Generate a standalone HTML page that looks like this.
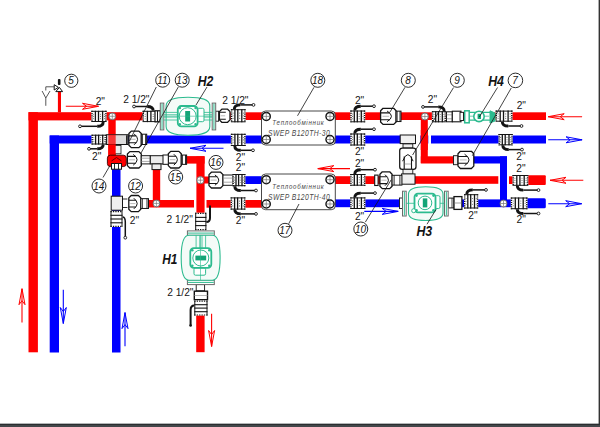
<!DOCTYPE html>
<html><head><meta charset="utf-8"><style>
html,body{margin:0;padding:0;background:#fff;overflow:hidden;}
svg{display:block;}
text{font-family:"Liberation Sans",sans-serif;}
</style></head><body>
<svg width="600" height="427" viewBox="0 0 600 427">
<rect x="0" y="0" width="600" height="427" fill="#fff"/>
<rect x="28.5" y="112.2" width="9.40" height="240.10" fill="#ff0000" />
<rect x="28.5" y="112.2" width="121.50" height="8.20" fill="#ff0000" />
<rect x="225" y="112.3" width="37.00" height="7.70" fill="#ff0000" />
<rect x="49.7" y="135.5" width="9.30" height="217.00" fill="#0000ff" />
<rect x="49.7" y="135.5" width="212.30" height="8.00" fill="#0000ff" />
<rect x="330" y="112.3" width="134.00" height="7.70" fill="#ff0000" />
<rect x="494" y="112.3" width="52.00" height="7.70" fill="#ff0000" />
<rect x="330" y="135.5" width="216.00" height="8.00" fill="#0000ff" />
<rect x="108.3" y="116" width="7.40" height="42.00" fill="#ff0000" />
<rect x="112" y="166" width="8.50" height="186.50" fill="#0000ff" />
<rect x="183" y="156.1" width="21.60" height="7.50" fill="#ff0000" />
<rect x="196.4" y="156.5" width="8.20" height="56.50" fill="#ff0000" />
<rect x="204" y="176.5" width="5.50" height="7.00" fill="#ff0000" />
<rect x="196.2" y="312" width="8.40" height="40.20" fill="#ff0000" />
<rect x="152.8" y="166" width="7.40" height="38.00" fill="#ff0000" />
<rect x="149" y="200" width="45.00" height="7.50" fill="#ff0000" />
<rect x="206.5" y="200" width="55.50" height="7.70" fill="#ff0000" />
<rect x="244" y="176.2" width="18.00" height="7.80" fill="#0000ff" />
<rect x="330" y="176.2" width="70.00" height="7.80" fill="#ff0000" />
<rect x="415" y="176.2" width="83.30" height="7.60" fill="#ff0000" />
<rect x="509" y="176.3" width="19.00" height="7.70" fill="#ff0000" />
<rect x="520" y="175.2" width="25.8" height="9.8" rx="1" fill="#ff0000"/>
<rect x="330" y="199.4" width="72.00" height="7.80" fill="#0000ff" />
<rect x="448" y="199.4" width="80.00" height="7.80" fill="#0000ff" />
<rect x="520" y="198.2" width="25.8" height="10" rx="1.5" fill="#0000ff"/>
<rect x="420.8" y="116" width="7.00" height="47.00" fill="#ff0000" />
<rect x="420.8" y="156.3" width="34.20" height="7.20" fill="#ff0000" />
<rect x="472" y="156.3" width="35.00" height="7.20" fill="#0000ff" />
<rect x="500" y="156.3" width="7.00" height="46.70" fill="#0000ff" />
<rect x="415.5" y="134" width="4.80" height="11.00" fill="#fff" />
<rect x="428.3" y="134" width="2.70" height="11.00" fill="#fff" />
<rect x="420.8" y="130" width="7.00" height="20.00" fill="#ff0000" />
<rect x="261.5" y="111" width="73.80000000000001" height="34" rx="4" fill="#fff" stroke="#333" stroke-width="0.9"/>
<text transform="translate(272.3,125.2) scale(0.78,1)" x="0" y="0" font-size="7.9" font-style="italic" textLength="65.9" lengthAdjust="spacing" fill="#4a4a4a">Теплообмінник</text>
<text transform="translate(268.1,135.6) scale(0.78,1)" x="0" y="0" font-size="8.7" font-style="italic" textLength="79.0" lengthAdjust="spacing" fill="#4a4a4a">SWEP B120TH-30</text>
<rect x="261.5" y="174" width="73.80000000000001" height="35.69999999999999" rx="4" fill="#fff" stroke="#333" stroke-width="0.9"/>
<text transform="translate(272.3,189.2) scale(0.78,1)" x="0" y="0" font-size="7.9" font-style="italic" textLength="65.9" lengthAdjust="spacing" fill="#4a4a4a">Теплообмінник</text>
<text transform="translate(268.1,199.5) scale(0.78,1)" x="0" y="0" font-size="8.7" font-style="italic" textLength="79.0" lengthAdjust="spacing" fill="#4a4a4a">SWEP B120TH-40</text>
<circle cx="266.3" cy="116.4" r="4.0" fill="#fff" stroke="#141414" stroke-width="1.5"/>
<path d="M262.3,116.4 H270.3 M266.3,112.4 V120.4" stroke="#777" stroke-width="0.7"/>
<circle cx="330" cy="116.4" r="4.0" fill="#fff" stroke="#141414" stroke-width="1.5"/>
<path d="M326.0,116.4 H334.0 M330,112.4 V120.4" stroke="#777" stroke-width="0.7"/>
<circle cx="266.3" cy="139.5" r="4.0" fill="#fff" stroke="#141414" stroke-width="1.5"/>
<path d="M262.3,139.5 H270.3 M266.3,135.5 V143.5" stroke="#777" stroke-width="0.7"/>
<circle cx="330" cy="139.5" r="4.0" fill="#fff" stroke="#141414" stroke-width="1.5"/>
<path d="M326.0,139.5 H334.0 M330,135.5 V143.5" stroke="#777" stroke-width="0.7"/>
<circle cx="266.3" cy="179.7" r="4.0" fill="#fff" stroke="#141414" stroke-width="1.5"/>
<path d="M262.3,179.7 H270.3 M266.3,175.7 V183.7" stroke="#777" stroke-width="0.7"/>
<circle cx="330" cy="179.7" r="4.0" fill="#fff" stroke="#141414" stroke-width="1.5"/>
<path d="M326.0,179.7 H334.0 M330,175.7 V183.7" stroke="#777" stroke-width="0.7"/>
<circle cx="266.3" cy="204" r="4.0" fill="#fff" stroke="#141414" stroke-width="1.5"/>
<path d="M262.3,204 H270.3 M266.3,200.0 V208.0" stroke="#777" stroke-width="0.7"/>
<circle cx="330" cy="204" r="4.0" fill="#fff" stroke="#141414" stroke-width="1.5"/>
<path d="M326.0,204 H334.0 M330,200.0 V208.0" stroke="#777" stroke-width="0.7"/>
<rect x="91.3" y="110.8" width="15.30" height="11.20" fill="#fff"/>
<path d="M91.3,111.3 H106.6 M91.3,121.5 H106.6" stroke="#141414" stroke-width="1"/>
<path d="M92.0,110.8 V122 M105.89999999999999,110.8 V122" stroke="#141414" stroke-width="1.4" stroke-dasharray="1.2 1"/>
<line x1="95.4" y1="110.8" x2="95.4" y2="122" stroke="#141414" stroke-width="1.3"/>
<line x1="98.5" y1="110.8" x2="98.5" y2="122" stroke="#141414" stroke-width="1.3"/>
<line x1="102.6" y1="110.8" x2="102.6" y2="122" stroke="#141414" stroke-width="1.3"/>
<circle cx="93.6" cy="114.2" r="0.55" fill="#777"/>
<circle cx="93.6" cy="116.4" r="0.55" fill="#777"/>
<circle cx="93.6" cy="118.6" r="0.55" fill="#777"/>
<circle cx="100.5" cy="114.2" r="0.55" fill="#777"/>
<circle cx="100.5" cy="116.4" r="0.55" fill="#777"/>
<circle cx="100.5" cy="118.6" r="0.55" fill="#777"/>
<circle cx="104.5" cy="114.2" r="0.55" fill="#777"/>
<circle cx="104.5" cy="116.4" r="0.55" fill="#777"/>
<circle cx="104.5" cy="118.6" r="0.55" fill="#777"/>
<path d="M103.2,122 Q103.2,126.3 97.2,126.3" fill="none" stroke="#141414" stroke-width="2.9"/>
<line x1="97.2" y1="126.3" x2="80.0" y2="126.3" stroke="#141414" stroke-width="1.5"/>
<circle cx="80.0" cy="126.3" r="1.4" fill="#fff" stroke="#141414" stroke-width="0.9"/>
<rect x="91.5" y="134.7" width="15.10" height="9.80" fill="#fff"/>
<path d="M91.5,135.2 H106.6 M91.5,144.0 H106.6" stroke="#141414" stroke-width="1"/>
<path d="M92.2,134.7 V144.5 M105.89999999999999,134.7 V144.5" stroke="#141414" stroke-width="1.4" stroke-dasharray="1.2 1"/>
<line x1="95.6" y1="134.7" x2="95.6" y2="144.5" stroke="#141414" stroke-width="1.3"/>
<line x1="98.6" y1="134.7" x2="98.6" y2="144.5" stroke="#141414" stroke-width="1.3"/>
<line x1="102.7" y1="134.7" x2="102.7" y2="144.5" stroke="#141414" stroke-width="1.3"/>
<circle cx="93.8" cy="137.6" r="0.55" fill="#777"/>
<circle cx="93.8" cy="139.6" r="0.55" fill="#777"/>
<circle cx="93.8" cy="141.6" r="0.55" fill="#777"/>
<circle cx="100.6" cy="137.6" r="0.55" fill="#777"/>
<circle cx="100.6" cy="139.6" r="0.55" fill="#777"/>
<circle cx="100.6" cy="141.6" r="0.55" fill="#777"/>
<circle cx="104.5" cy="137.6" r="0.55" fill="#777"/>
<circle cx="104.5" cy="139.6" r="0.55" fill="#777"/>
<circle cx="104.5" cy="141.6" r="0.55" fill="#777"/>
<path d="M103.2,144.5 Q103.2,148.8 97.2,148.8" fill="none" stroke="#141414" stroke-width="2.9"/>
<line x1="97.2" y1="148.8" x2="89.0" y2="148.8" stroke="#141414" stroke-width="1.5"/>
<circle cx="89.0" cy="148.8" r="1.4" fill="#fff" stroke="#141414" stroke-width="0.9"/>
<circle cx="112.3" cy="116.3" r="3.4" fill="#fff" stroke="#666" stroke-width="0.9"/>
<path d="M108.9,116.3 H115.7 M112.3,112.9 V119.7" stroke="#777" stroke-width="0.7"/>
<rect x="142.6" y="110.8" width="17.60" height="11.30" fill="#fff"/>
<path d="M142.6,111.3 H160.2 M142.6,121.6 H160.2" stroke="#141414" stroke-width="1"/>
<path d="M143.29999999999998,110.8 V122.1 M159.5,110.8 V122.1" stroke="#141414" stroke-width="1.4" stroke-dasharray="1.2 1"/>
<line x1="147.4" y1="110.8" x2="147.4" y2="122.1" stroke="#141414" stroke-width="1.3"/>
<line x1="150.9" y1="110.8" x2="150.9" y2="122.1" stroke="#141414" stroke-width="1.3"/>
<line x1="155.6" y1="110.8" x2="155.6" y2="122.1" stroke="#141414" stroke-width="1.3"/>
<circle cx="145.2" cy="114.2" r="0.55" fill="#777"/>
<circle cx="145.2" cy="116.4" r="0.55" fill="#777"/>
<circle cx="145.2" cy="118.7" r="0.55" fill="#777"/>
<circle cx="153.2" cy="114.2" r="0.55" fill="#777"/>
<circle cx="153.2" cy="116.4" r="0.55" fill="#777"/>
<circle cx="153.2" cy="118.7" r="0.55" fill="#777"/>
<circle cx="157.7" cy="114.2" r="0.55" fill="#777"/>
<circle cx="157.7" cy="116.4" r="0.55" fill="#777"/>
<circle cx="157.7" cy="118.7" r="0.55" fill="#777"/>
<path d="M153.2,110.8 Q153.2,106.5 147.2,106.5" fill="none" stroke="#141414" stroke-width="2.9"/>
<line x1="147.2" y1="106.5" x2="134.0" y2="106.5" stroke="#141414" stroke-width="1.5"/>
<circle cx="134.0" cy="106.5" r="1.4" fill="#fff" stroke="#141414" stroke-width="0.9"/>
<rect x="106.6" y="134.7" width="21.5" height="9.8" fill="#ddd" stroke="#141414" stroke-width="1"/>
<rect x="108.3" y="134.7" width="7.4" height="9.8" fill="#ff0000" opacity="0.75"/>
<path d="M131.3,131.1 H138.9 L141.3,133.5 V145.2 L138.9,147.6 H131.3 L128.9,145.2 V133.5 Z" fill="#fff" stroke="#141414" stroke-width="1.3" stroke-linejoin="round"/>
<path d="M128.9,135.9 H136.3 M128.9,142.8 H136.3" stroke="#141414" stroke-width="1.1"/>
<path d="M130.4,139.3 H135.7" stroke="#aaa" stroke-width="0.8"/>
<path d="M134.1,133.9 Q141.1,139.3 134.1,144.8" fill="none" stroke="#141414" stroke-width="1"/>
<rect x="141.3" y="134.20" width="5.40" height="10.3" fill="#fff" stroke="#141414" stroke-width="1"/>
<path d="M142.4,134.2 V144.5 M145.6,134.2 V144.5" stroke="#141414" stroke-width="0.9"/>
<path d="M126.8,135.2 V144" stroke="#141414" stroke-width="1.4"/>
<rect x="114.3" y="145.5" width="6.70" height="8.30" fill="#eee" stroke="#141414" stroke-width="0.8"/>
<rect x="108.3" y="144.5" width="7.40" height="12.50" fill="#ff0000" />
<rect x="107.4" y="155.2" width="18.9" height="11.4" rx="3" fill="#ff0000" stroke="#3a0000" stroke-width="0.9"/>
<path d="M111.5,161 L116.5,157.5 L121.5,161" fill="none" stroke="#500" stroke-width="0.9"/>
<rect x="111.5" y="163.5" width="10.00" height="5.70" fill="#fff" stroke="#141414" stroke-width="1"/>
<path d="M114.5,163.5 V169.2 M118.5,163.5 V169.2" stroke="#141414" stroke-width="0.9"/>
<rect x="215.7" y="111.2" width="2.90" height="10.00" fill="#fff" stroke="#141414" stroke-width="0.9"/>
<path d="M221.8,109.2 H227.6 L230,111.6 V119.9 L227.6,122.3 H221.8 L219.4,119.9 V111.6 Z" fill="#fff" stroke="#141414" stroke-width="1.3" stroke-linejoin="round"/>
<path d="M219.4,112.3 H225.8 M219.4,119.2 H225.8" stroke="#141414" stroke-width="1.1"/>
<path d="M220.7,115.8 H225.2" stroke="#aaa" stroke-width="0.8"/>
<rect x="230.9" y="109.2" width="14.70" height="13.10" fill="#fff"/>
<path d="M230.9,109.7 H245.6 M230.9,121.8 H245.6" stroke="#141414" stroke-width="1"/>
<path d="M231.6,109.2 V122.3 M244.9,109.2 V122.3" stroke="#141414" stroke-width="1.4" stroke-dasharray="1.2 1"/>
<line x1="234.9" y1="109.2" x2="234.9" y2="122.3" stroke="#141414" stroke-width="1.3"/>
<line x1="237.8" y1="109.2" x2="237.8" y2="122.3" stroke="#141414" stroke-width="1.3"/>
<line x1="241.8" y1="109.2" x2="241.8" y2="122.3" stroke="#141414" stroke-width="1.3"/>
<circle cx="233.1" cy="113.1" r="0.55" fill="#777"/>
<circle cx="233.1" cy="115.8" r="0.55" fill="#777"/>
<circle cx="233.1" cy="118.4" r="0.55" fill="#777"/>
<circle cx="239.7" cy="113.1" r="0.55" fill="#777"/>
<circle cx="239.7" cy="115.8" r="0.55" fill="#777"/>
<circle cx="239.7" cy="118.4" r="0.55" fill="#777"/>
<circle cx="243.5" cy="113.1" r="0.55" fill="#777"/>
<circle cx="243.5" cy="115.8" r="0.55" fill="#777"/>
<circle cx="243.5" cy="118.4" r="0.55" fill="#777"/>
<path d="M234.3,109.2 Q234.3,104.9 240.3,104.9" fill="none" stroke="#141414" stroke-width="2.9"/>
<line x1="240.3" y1="104.9" x2="253.5" y2="104.9" stroke="#141414" stroke-width="1.5"/>
<circle cx="253.5" cy="104.9" r="1.4" fill="#fff" stroke="#141414" stroke-width="0.9"/>
<rect x="230.9" y="133.8" width="14.70" height="12.20" fill="#fff"/>
<path d="M230.9,134.3 H245.6 M230.9,145.5 H245.6" stroke="#141414" stroke-width="1"/>
<path d="M231.6,133.8 V146 M244.9,133.8 V146" stroke="#141414" stroke-width="1.4" stroke-dasharray="1.2 1"/>
<line x1="234.9" y1="133.8" x2="234.9" y2="146" stroke="#141414" stroke-width="1.3"/>
<line x1="237.8" y1="133.8" x2="237.8" y2="146" stroke="#141414" stroke-width="1.3"/>
<line x1="241.8" y1="133.8" x2="241.8" y2="146" stroke="#141414" stroke-width="1.3"/>
<circle cx="233.1" cy="137.5" r="0.55" fill="#777"/>
<circle cx="233.1" cy="139.9" r="0.55" fill="#777"/>
<circle cx="233.1" cy="142.3" r="0.55" fill="#777"/>
<circle cx="239.7" cy="137.5" r="0.55" fill="#777"/>
<circle cx="239.7" cy="139.9" r="0.55" fill="#777"/>
<circle cx="239.7" cy="142.3" r="0.55" fill="#777"/>
<circle cx="243.5" cy="137.5" r="0.55" fill="#777"/>
<circle cx="243.5" cy="139.9" r="0.55" fill="#777"/>
<circle cx="243.5" cy="142.3" r="0.55" fill="#777"/>
<path d="M234.8,146 Q234.8,150.3 240.8,150.3" fill="none" stroke="#141414" stroke-width="2.9"/>
<line x1="240.8" y1="150.3" x2="253.0" y2="150.3" stroke="#141414" stroke-width="1.5"/>
<circle cx="253.0" cy="150.3" r="1.4" fill="#fff" stroke="#141414" stroke-width="0.9"/>
<path d="M129.8,151.6 H138.9 L141.3,154.0 V165.6 L138.9,168 H129.8 L127.4,165.6 V154.0 Z" fill="#fff" stroke="#141414" stroke-width="1.3" stroke-linejoin="round"/>
<path d="M127.4,156.4 H135.7 M127.4,163.2 H135.7" stroke="#141414" stroke-width="1.1"/>
<path d="M129.1,159.8 H135.0" stroke="#aaa" stroke-width="0.8"/>
<path d="M133.2,154.4 Q141.0,159.8 133.2,165.2" fill="none" stroke="#141414" stroke-width="1"/>
<rect x="141.3" y="155.7" width="9.00" height="8.20" fill="#fff" stroke="#141414" stroke-width="1"/>
<path d="M141.3,158.2 H150.3 M141.3,161.4 H150.3" stroke="#888" stroke-width="0.7"/>
<rect x="150.3" y="155.7" width="15.60" height="8.20" fill="#ececec" stroke="#141414" stroke-width="1"/>
<rect x="152" y="163.9" width="9.00" height="5.70" fill="#ececec" stroke="#141414" stroke-width="1"/>
<path d="M170.7,151.4 H178.9 L181.3,153.8 V165.6 L178.9,168 H170.7 L168.3,165.6 V153.8 Z" fill="#fff" stroke="#141414" stroke-width="1.3" stroke-linejoin="round"/>
<path d="M168.3,156.3 H176.1 M168.3,163.1 H176.1" stroke="#141414" stroke-width="1.1"/>
<path d="M169.9,159.7 H175.5" stroke="#aaa" stroke-width="0.8"/>
<path d="M173.8,154.2 Q181.0,159.7 173.8,165.2" fill="none" stroke="#141414" stroke-width="1"/>
<rect x="181.3" y="155.05" width="5.30" height="9.3" fill="#fff" stroke="#141414" stroke-width="1"/>
<path d="M182.4,155.0 V164.3 M185.5,155.0 V164.3" stroke="#141414" stroke-width="0.9"/>
<rect x="163" y="155" width="5.3" height="9.3" fill="#fff" stroke="#141414" stroke-width="1"/>
<path d="M131.2,195.5 H138.4 L140.8,197.9 V209.2 L138.4,211.6 H131.2 L128.8,209.2 V197.9 Z" fill="#fff" stroke="#141414" stroke-width="1.3" stroke-linejoin="round"/>
<path d="M128.8,200.2 H136.0 M128.8,207.0 H136.0" stroke="#141414" stroke-width="1.1"/>
<path d="M130.2,203.6 H135.4" stroke="#aaa" stroke-width="0.8"/>
<path d="M133.8,198.2 Q140.6,203.6 133.8,208.9" fill="none" stroke="#141414" stroke-width="1"/>
<rect x="140.8" y="198.65" width="7.70" height="9.8" fill="#fff" stroke="#141414" stroke-width="1"/>
<path d="M142.3,198.7 V208.5 M147.0,198.7 V208.5" stroke="#141414" stroke-width="0.9"/>
<circle cx="156.4" cy="203.4" r="3.4" fill="#fff" stroke="#666" stroke-width="0.9"/>
<path d="M153.0,203.4 H159.8 M156.4,200.0 V206.8" stroke="#777" stroke-width="0.7"/>
<rect x="111.2" y="196.2" width="11.30" height="14.00" fill="#eee" stroke="#141414" stroke-width="1"/>
<path d="M122.5,199 H127.4 M122.5,207.5 H127.4" stroke="#141414" stroke-width="0.9"/>
<rect x="110.5" y="211" width="12.00" height="16.00" fill="#fff"/>
<path d="M111.0,211 V227 M122.0,211 V227" stroke="#141414" stroke-width="1"/>
<path d="M110.5,211.6 H122.5 M110.5,226.4 H122.5" stroke="#141414" stroke-width="1.2" stroke-dasharray="1.3 1.1"/>
<line x1="110.5" y1="215.3" x2="122.5" y2="215.3" stroke="#141414" stroke-width="1.1"/>
<line x1="110.5" y1="219.0" x2="122.5" y2="219.0" stroke="#141414" stroke-width="1.1"/>
<line x1="110.5" y1="222.8" x2="122.5" y2="222.8" stroke="#141414" stroke-width="1.1"/>
<path d="M122.5,217 C125,217 125.3,219 125.3,222 V237.5" fill="none" stroke="#141414" stroke-width="1.5"/>
<circle cx="125.3" cy="237.7" r="1.4" fill="#fff" stroke="#141414" stroke-width="0.9"/>
<circle cx="200.4" cy="180.2" r="3.6" fill="#fff" stroke="#666" stroke-width="0.9"/>
<path d="M196.8,180.2 H204.0 M200.4,176.6 V183.8" stroke="#777" stroke-width="0.7"/>
<path d="M211.4,172.2 H220.6 L223,174.6 V185.6 L220.6,188 H211.4 L209,185.6 V174.6 Z" fill="#fff" stroke="#141414" stroke-width="1.3" stroke-linejoin="round"/>
<path d="M209,176.7 H217.4 M209,183.5 H217.4" stroke="#141414" stroke-width="1.1"/>
<path d="M210.7,180.1 H216.7" stroke="#aaa" stroke-width="0.8"/>
<path d="M214.9,174.9 Q222.7,180.1 214.9,185.3" fill="none" stroke="#141414" stroke-width="1"/>
<rect x="223" y="175" width="9.50" height="10.30" fill="#fff" stroke="#141414" stroke-width="1"/>
<path d="M223,178.1 H232.5 M223,182.2 H232.5" stroke="#888" stroke-width="0.7"/>
<rect x="232.5" y="174" width="12.90" height="12.20" fill="#fff"/>
<path d="M232.5,174.5 H245.4 M232.5,185.7 H245.4" stroke="#141414" stroke-width="1"/>
<path d="M233.2,174 V186.2 M244.70000000000002,174 V186.2" stroke="#141414" stroke-width="1.4" stroke-dasharray="1.2 1"/>
<line x1="236.0" y1="174" x2="236.0" y2="186.2" stroke="#141414" stroke-width="1.3"/>
<line x1="238.6" y1="174" x2="238.6" y2="186.2" stroke="#141414" stroke-width="1.3"/>
<line x1="242.0" y1="174" x2="242.0" y2="186.2" stroke="#141414" stroke-width="1.3"/>
<circle cx="234.4" cy="177.7" r="0.55" fill="#777"/>
<circle cx="234.4" cy="180.1" r="0.55" fill="#777"/>
<circle cx="234.4" cy="182.5" r="0.55" fill="#777"/>
<circle cx="240.2" cy="177.7" r="0.55" fill="#777"/>
<circle cx="240.2" cy="180.1" r="0.55" fill="#777"/>
<circle cx="240.2" cy="182.5" r="0.55" fill="#777"/>
<circle cx="243.6" cy="177.7" r="0.55" fill="#777"/>
<circle cx="243.6" cy="180.1" r="0.55" fill="#777"/>
<circle cx="243.6" cy="182.5" r="0.55" fill="#777"/>
<path d="M234.8,186.2 Q234.8,190.5 240.8,190.5" fill="none" stroke="#141414" stroke-width="2.9"/>
<line x1="240.8" y1="190.5" x2="256.0" y2="190.5" stroke="#141414" stroke-width="1.5"/>
<circle cx="256.0" cy="190.5" r="1.4" fill="#fff" stroke="#141414" stroke-width="0.9"/>
<rect x="230.6" y="197.4" width="14.80" height="12.20" fill="#fff"/>
<path d="M230.6,197.9 H245.4 M230.6,209.1 H245.4" stroke="#141414" stroke-width="1"/>
<path d="M231.29999999999998,197.4 V209.6 M244.70000000000002,197.4 V209.6" stroke="#141414" stroke-width="1.4" stroke-dasharray="1.2 1"/>
<line x1="234.6" y1="197.4" x2="234.6" y2="209.6" stroke="#141414" stroke-width="1.3"/>
<line x1="237.6" y1="197.4" x2="237.6" y2="209.6" stroke="#141414" stroke-width="1.3"/>
<line x1="241.6" y1="197.4" x2="241.6" y2="209.6" stroke="#141414" stroke-width="1.3"/>
<circle cx="232.8" cy="201.1" r="0.55" fill="#777"/>
<circle cx="232.8" cy="203.5" r="0.55" fill="#777"/>
<circle cx="232.8" cy="205.9" r="0.55" fill="#777"/>
<circle cx="239.5" cy="201.1" r="0.55" fill="#777"/>
<circle cx="239.5" cy="203.5" r="0.55" fill="#777"/>
<circle cx="239.5" cy="205.9" r="0.55" fill="#777"/>
<circle cx="243.3" cy="201.1" r="0.55" fill="#777"/>
<circle cx="243.3" cy="203.5" r="0.55" fill="#777"/>
<circle cx="243.3" cy="205.9" r="0.55" fill="#777"/>
<path d="M234.8,209.6 Q234.8,213.9 240.8,213.9" fill="none" stroke="#141414" stroke-width="2.9"/>
<line x1="240.8" y1="213.9" x2="256.0" y2="213.9" stroke="#141414" stroke-width="1.5"/>
<circle cx="256.0" cy="213.9" r="1.4" fill="#fff" stroke="#141414" stroke-width="0.9"/>
<rect x="195.2" y="212.7" width="11.20" height="17.50" fill="#fff"/>
<path d="M195.7,212.7 V230.2 M205.9,212.7 V230.2" stroke="#141414" stroke-width="1"/>
<path d="M195.2,213.29999999999998 H206.4 M195.2,229.6 H206.4" stroke="#141414" stroke-width="1.2" stroke-dasharray="1.3 1.1"/>
<line x1="195.2" y1="217.4" x2="206.4" y2="217.4" stroke="#141414" stroke-width="1.1"/>
<line x1="195.2" y1="221.4" x2="206.4" y2="221.4" stroke="#141414" stroke-width="1.1"/>
<line x1="195.2" y1="225.6" x2="206.4" y2="225.6" stroke="#141414" stroke-width="1.1"/>
<path d="M210,205.6 V218 C210,221 208,222 206.4,222" fill="none" stroke="#141414" stroke-width="2"/>
<rect x="196.2" y="284.6" width="8.40" height="6.20" fill="#fff" stroke="#141414" stroke-width="0.9"/>
<rect x="194.3" y="291.2" width="13.20" height="8.50" fill="#fff" stroke="#141414" stroke-width="1.4"/>
<path d="M194.3,295.5 H207.5" stroke="#999" stroke-width="0.7"/>
<rect x="194.3" y="300.6" width="13.20" height="15.00" fill="#fff"/>
<path d="M194.8,300.6 V315.6 M207.0,300.6 V315.6" stroke="#141414" stroke-width="1"/>
<path d="M194.3,301.20000000000005 H207.5 M194.3,315.0 H207.5" stroke="#141414" stroke-width="1.2" stroke-dasharray="1.3 1.1"/>
<line x1="194.3" y1="304.7" x2="207.5" y2="304.7" stroke="#141414" stroke-width="1.1"/>
<line x1="194.3" y1="308.1" x2="207.5" y2="308.1" stroke="#141414" stroke-width="1.1"/>
<line x1="194.3" y1="311.7" x2="207.5" y2="311.7" stroke="#141414" stroke-width="1.1"/>
<path d="M194.3,305.5 Q190.6,305.5 190.6,310 V325.5" fill="none" stroke="#141414" stroke-width="2"/>
<circle cx="190.6" cy="325.5" r="1.3" fill="#141414"/>
<rect x="350.3" y="110.5" width="14.90" height="11.80" fill="#fff"/>
<path d="M350.3,111.0 H365.2 M350.3,121.8 H365.2" stroke="#141414" stroke-width="1"/>
<path d="M351.0,110.5 V122.3 M364.5,110.5 V122.3" stroke="#141414" stroke-width="1.4" stroke-dasharray="1.2 1"/>
<line x1="354.3" y1="110.5" x2="354.3" y2="122.3" stroke="#141414" stroke-width="1.3"/>
<line x1="357.3" y1="110.5" x2="357.3" y2="122.3" stroke="#141414" stroke-width="1.3"/>
<line x1="361.3" y1="110.5" x2="361.3" y2="122.3" stroke="#141414" stroke-width="1.3"/>
<circle cx="352.5" cy="114.0" r="0.55" fill="#777"/>
<circle cx="352.5" cy="116.4" r="0.55" fill="#777"/>
<circle cx="352.5" cy="118.8" r="0.55" fill="#777"/>
<circle cx="359.2" cy="114.0" r="0.55" fill="#777"/>
<circle cx="359.2" cy="116.4" r="0.55" fill="#777"/>
<circle cx="359.2" cy="118.8" r="0.55" fill="#777"/>
<circle cx="363.1" cy="114.0" r="0.55" fill="#777"/>
<circle cx="363.1" cy="116.4" r="0.55" fill="#777"/>
<circle cx="363.1" cy="118.8" r="0.55" fill="#777"/>
<path d="M354.8,110.5 Q354.8,106.2 360.8,106.2" fill="none" stroke="#141414" stroke-width="2.9"/>
<line x1="360.8" y1="106.2" x2="374.0" y2="106.2" stroke="#141414" stroke-width="1.5"/>
<circle cx="374.0" cy="106.2" r="1.4" fill="#fff" stroke="#141414" stroke-width="0.9"/>
<rect x="350.3" y="133.5" width="14.90" height="12.00" fill="#fff"/>
<path d="M350.3,134.0 H365.2 M350.3,145.0 H365.2" stroke="#141414" stroke-width="1"/>
<path d="M351.0,133.5 V145.5 M364.5,133.5 V145.5" stroke="#141414" stroke-width="1.4" stroke-dasharray="1.2 1"/>
<line x1="354.3" y1="133.5" x2="354.3" y2="145.5" stroke="#141414" stroke-width="1.3"/>
<line x1="357.3" y1="133.5" x2="357.3" y2="145.5" stroke="#141414" stroke-width="1.3"/>
<line x1="361.3" y1="133.5" x2="361.3" y2="145.5" stroke="#141414" stroke-width="1.3"/>
<circle cx="352.5" cy="137.1" r="0.55" fill="#777"/>
<circle cx="352.5" cy="139.5" r="0.55" fill="#777"/>
<circle cx="352.5" cy="141.9" r="0.55" fill="#777"/>
<circle cx="359.2" cy="137.1" r="0.55" fill="#777"/>
<circle cx="359.2" cy="139.5" r="0.55" fill="#777"/>
<circle cx="359.2" cy="141.9" r="0.55" fill="#777"/>
<circle cx="363.1" cy="137.1" r="0.55" fill="#777"/>
<circle cx="363.1" cy="139.5" r="0.55" fill="#777"/>
<circle cx="363.1" cy="141.9" r="0.55" fill="#777"/>
<path d="M354.8,133.5 Q354.8,129.2 360.8,129.2" fill="none" stroke="#141414" stroke-width="2.9"/>
<line x1="360.8" y1="129.2" x2="374.0" y2="129.2" stroke="#141414" stroke-width="1.5"/>
<circle cx="374.0" cy="129.2" r="1.4" fill="#fff" stroke="#141414" stroke-width="0.9"/>
<path d="M383.0,108.3 H393.7 L396.1,110.7 V122.0 L393.7,124.4 H383.0 L380.6,122.0 V110.7 Z" fill="#fff" stroke="#141414" stroke-width="1.3" stroke-linejoin="round"/>
<path d="M380.6,112.9 H389.9 M380.6,119.8 H389.9" stroke="#141414" stroke-width="1.1"/>
<path d="M382.5,116.3 H389.1" stroke="#aaa" stroke-width="0.8"/>
<path d="M387.1,111.0 Q395.8,116.3 387.1,121.7" fill="none" stroke="#141414" stroke-width="1"/>
<rect x="396.1" y="111.15" width="4.90" height="10.4" fill="#fff" stroke="#141414" stroke-width="1"/>
<path d="M397.1,111.1 V121.5 M400.0,111.1 V121.5" stroke="#141414" stroke-width="0.9"/>
<circle cx="424.9" cy="116.5" r="3.5" fill="#fff" stroke="#666" stroke-width="0.9"/>
<path d="M421.4,116.5 H428.4 M424.9,113.0 V120.0" stroke="#777" stroke-width="0.7"/>
<rect x="431.9" y="111.2" width="14.00" height="11.10" fill="#fff"/>
<path d="M431.9,111.7 H445.9 M431.9,121.8 H445.9" stroke="#141414" stroke-width="1"/>
<path d="M432.59999999999997,111.2 V122.3 M445.2,111.2 V122.3" stroke="#141414" stroke-width="1.4" stroke-dasharray="1.2 1"/>
<line x1="435.7" y1="111.2" x2="435.7" y2="122.3" stroke="#141414" stroke-width="1.3"/>
<line x1="438.5" y1="111.2" x2="438.5" y2="122.3" stroke="#141414" stroke-width="1.3"/>
<line x1="442.3" y1="111.2" x2="442.3" y2="122.3" stroke="#141414" stroke-width="1.3"/>
<circle cx="434.0" cy="114.5" r="0.55" fill="#777"/>
<circle cx="434.0" cy="116.8" r="0.55" fill="#777"/>
<circle cx="434.0" cy="119.0" r="0.55" fill="#777"/>
<circle cx="440.3" cy="114.5" r="0.55" fill="#777"/>
<circle cx="440.3" cy="116.8" r="0.55" fill="#777"/>
<circle cx="440.3" cy="119.0" r="0.55" fill="#777"/>
<circle cx="443.9" cy="114.5" r="0.55" fill="#777"/>
<circle cx="443.9" cy="116.8" r="0.55" fill="#777"/>
<circle cx="443.9" cy="119.0" r="0.55" fill="#777"/>
<path d="M444.2,111.2 Q444.2,106.9 438.2,106.9" fill="none" stroke="#141414" stroke-width="2.9"/>
<line x1="438.2" y1="106.9" x2="423.0" y2="106.9" stroke="#141414" stroke-width="1.5"/>
<circle cx="423.0" cy="106.9" r="1.4" fill="#fff" stroke="#141414" stroke-width="0.9"/>
<rect x="446.5" y="111.8" width="5.80" height="10.00" fill="#fff" stroke="#141414" stroke-width="1"/>
<path d="M446.5,114.8 H452.3 M446.5,118.8 H452.3" stroke="#888" stroke-width="0.7"/>
<rect x="452.3" y="111.2" width="8.70" height="10.60" fill="#fff" stroke="#141414" stroke-width="1.1"/>
<rect x="461" y="113" width="2.50" height="7.60" fill="#fff" stroke="#141414" stroke-width="0.9"/>
<rect x="495.6" y="110.6" width="16.90" height="11.10" fill="#fff"/>
<path d="M495.6,111.1 H512.5 M495.6,121.2 H512.5" stroke="#141414" stroke-width="1"/>
<path d="M496.3,110.6 V121.7 M511.8,110.6 V121.7" stroke="#141414" stroke-width="1.4" stroke-dasharray="1.2 1"/>
<line x1="500.2" y1="110.6" x2="500.2" y2="121.7" stroke="#141414" stroke-width="1.3"/>
<line x1="503.5" y1="110.6" x2="503.5" y2="121.7" stroke="#141414" stroke-width="1.3"/>
<line x1="508.1" y1="110.6" x2="508.1" y2="121.7" stroke="#141414" stroke-width="1.3"/>
<circle cx="498.1" cy="113.9" r="0.55" fill="#777"/>
<circle cx="498.1" cy="116.2" r="0.55" fill="#777"/>
<circle cx="498.1" cy="118.4" r="0.55" fill="#777"/>
<circle cx="505.7" cy="113.9" r="0.55" fill="#777"/>
<circle cx="505.7" cy="116.2" r="0.55" fill="#777"/>
<circle cx="505.7" cy="118.4" r="0.55" fill="#777"/>
<circle cx="510.1" cy="113.9" r="0.55" fill="#777"/>
<circle cx="510.1" cy="116.2" r="0.55" fill="#777"/>
<circle cx="510.1" cy="118.4" r="0.55" fill="#777"/>
<path d="M502.3,121.7 Q502.3,126.0 508.3,126.0" fill="none" stroke="#141414" stroke-width="2.9"/>
<line x1="508.3" y1="126.0" x2="521.5" y2="126.0" stroke="#141414" stroke-width="1.5"/>
<circle cx="521.5" cy="126.0" r="1.4" fill="#fff" stroke="#141414" stroke-width="0.9"/>
<rect x="498.5" y="134" width="14.20" height="11.30" fill="#fff"/>
<path d="M498.5,134.5 H512.7 M498.5,144.8 H512.7" stroke="#141414" stroke-width="1"/>
<path d="M499.2,134 V145.3 M512.0,134 V145.3" stroke="#141414" stroke-width="1.4" stroke-dasharray="1.2 1"/>
<line x1="502.3" y1="134" x2="502.3" y2="145.3" stroke="#141414" stroke-width="1.3"/>
<line x1="505.2" y1="134" x2="505.2" y2="145.3" stroke="#141414" stroke-width="1.3"/>
<line x1="509.0" y1="134" x2="509.0" y2="145.3" stroke="#141414" stroke-width="1.3"/>
<circle cx="500.6" cy="137.4" r="0.55" fill="#777"/>
<circle cx="500.6" cy="139.7" r="0.55" fill="#777"/>
<circle cx="500.6" cy="141.9" r="0.55" fill="#777"/>
<circle cx="507.0" cy="137.4" r="0.55" fill="#777"/>
<circle cx="507.0" cy="139.7" r="0.55" fill="#777"/>
<circle cx="507.0" cy="141.9" r="0.55" fill="#777"/>
<circle cx="510.7" cy="137.4" r="0.55" fill="#777"/>
<circle cx="510.7" cy="139.7" r="0.55" fill="#777"/>
<circle cx="510.7" cy="141.9" r="0.55" fill="#777"/>
<path d="M502.8,145.3 Q502.8,149.6 508.8,149.6" fill="none" stroke="#141414" stroke-width="2.9"/>
<line x1="508.8" y1="149.6" x2="522.0" y2="149.6" stroke="#141414" stroke-width="1.5"/>
<circle cx="522.0" cy="149.6" r="1.4" fill="#fff" stroke="#141414" stroke-width="0.9"/>
<rect x="400.2" y="135" width="15.30" height="8.60" fill="#f0f0f0" stroke="#141414" stroke-width="1"/>
<rect x="403" y="143.9" width="9.80" height="4.10" fill="#eee" stroke="#141414" stroke-width="0.9"/>
<rect x="399.7" y="148" width="16.30" height="21.30" rx="2.6" fill="#fff" stroke="#141414" stroke-width="1.25"/>
<path d="M404.2,169.3 V156.5 M411.5,169.3 V156.5" stroke="#141414" stroke-width="1.1"/>
<path d="M402.6,161.2 Q407.9,148.0 413.1,161.2" fill="none" stroke="#141414" stroke-width="1"/>
<path d="M404.6,164.0 H411.1" stroke="#999" stroke-width="0.8"/>
<rect x="403" y="169.3" width="9.80" height="4.90" fill="#eee" stroke="#141414" stroke-width="0.9"/>
<rect x="401.6" y="173.9" width="13.40" height="10.30" fill="#f0f0f0" stroke="#141414" stroke-width="1"/>
<rect x="453.5" y="155.7" width="4.50" height="9.00" fill="#eee" stroke="#141414" stroke-width="0.9"/>
<path d="M460.4,151.3 H471.4 L473.8,153.7 V166.1 L471.4,168.5 H460.4 L458,166.1 V153.7 Z" fill="#fff" stroke="#141414" stroke-width="1.3" stroke-linejoin="round"/>
<path d="M458,156.5 H467.5 M458,163.3 H467.5" stroke="#141414" stroke-width="1.1"/>
<path d="M459.9,159.9 H466.7" stroke="#aaa" stroke-width="0.8"/>
<path d="M464.6,154.2 Q473.5,159.9 464.6,165.6" fill="none" stroke="#141414" stroke-width="1"/>
<rect x="350.2" y="174" width="15.20" height="11.70" fill="#fff"/>
<path d="M350.2,174.5 H365.4 M350.2,185.2 H365.4" stroke="#141414" stroke-width="1"/>
<path d="M350.9,174 V185.7 M364.7,174 V185.7" stroke="#141414" stroke-width="1.4" stroke-dasharray="1.2 1"/>
<line x1="354.3" y1="174" x2="354.3" y2="185.7" stroke="#141414" stroke-width="1.3"/>
<line x1="357.3" y1="174" x2="357.3" y2="185.7" stroke="#141414" stroke-width="1.3"/>
<line x1="361.4" y1="174" x2="361.4" y2="185.7" stroke="#141414" stroke-width="1.3"/>
<circle cx="352.5" cy="177.5" r="0.55" fill="#777"/>
<circle cx="352.5" cy="179.8" r="0.55" fill="#777"/>
<circle cx="352.5" cy="182.2" r="0.55" fill="#777"/>
<circle cx="359.3" cy="177.5" r="0.55" fill="#777"/>
<circle cx="359.3" cy="179.8" r="0.55" fill="#777"/>
<circle cx="359.3" cy="182.2" r="0.55" fill="#777"/>
<circle cx="363.3" cy="177.5" r="0.55" fill="#777"/>
<circle cx="363.3" cy="179.8" r="0.55" fill="#777"/>
<circle cx="363.3" cy="182.2" r="0.55" fill="#777"/>
<path d="M354.8,174 Q354.8,169.7 360.8,169.7" fill="none" stroke="#141414" stroke-width="2.9"/>
<line x1="360.8" y1="169.7" x2="375.0" y2="169.7" stroke="#141414" stroke-width="1.5"/>
<circle cx="375.0" cy="169.7" r="1.4" fill="#fff" stroke="#141414" stroke-width="0.9"/>
<rect x="350.2" y="197.4" width="15.20" height="11.60" fill="#fff"/>
<path d="M350.2,197.9 H365.4 M350.2,208.5 H365.4" stroke="#141414" stroke-width="1"/>
<path d="M350.9,197.4 V209 M364.7,197.4 V209" stroke="#141414" stroke-width="1.4" stroke-dasharray="1.2 1"/>
<line x1="354.3" y1="197.4" x2="354.3" y2="209" stroke="#141414" stroke-width="1.3"/>
<line x1="357.3" y1="197.4" x2="357.3" y2="209" stroke="#141414" stroke-width="1.3"/>
<line x1="361.4" y1="197.4" x2="361.4" y2="209" stroke="#141414" stroke-width="1.3"/>
<circle cx="352.5" cy="200.9" r="0.55" fill="#777"/>
<circle cx="352.5" cy="203.2" r="0.55" fill="#777"/>
<circle cx="352.5" cy="205.5" r="0.55" fill="#777"/>
<circle cx="359.3" cy="200.9" r="0.55" fill="#777"/>
<circle cx="359.3" cy="203.2" r="0.55" fill="#777"/>
<circle cx="359.3" cy="205.5" r="0.55" fill="#777"/>
<circle cx="363.3" cy="200.9" r="0.55" fill="#777"/>
<circle cx="363.3" cy="203.2" r="0.55" fill="#777"/>
<circle cx="363.3" cy="205.5" r="0.55" fill="#777"/>
<path d="M354.8,197.4 Q354.8,193.1 360.8,193.1" fill="none" stroke="#141414" stroke-width="2.9"/>
<line x1="360.8" y1="193.1" x2="375.0" y2="193.1" stroke="#141414" stroke-width="1.5"/>
<circle cx="375.0" cy="193.1" r="1.4" fill="#fff" stroke="#141414" stroke-width="0.9"/>
<path d="M382.3,171.8 H389.7 L392.1,174.2 V186.2 L389.7,188.6 H382.3 L379.9,186.2 V174.2 Z" fill="#fff" stroke="#141414" stroke-width="1.3" stroke-linejoin="round"/>
<path d="M379.9,176.8 H387.2 M379.9,183.6 H387.2" stroke="#141414" stroke-width="1.1"/>
<path d="M381.4,180.2 H386.6" stroke="#aaa" stroke-width="0.8"/>
<path d="M385.0,174.7 Q391.9,180.2 385.0,185.7" fill="none" stroke="#141414" stroke-width="1"/>
<rect x="392.1" y="175.30" width="9.80" height="9.8" fill="#fff" stroke="#141414" stroke-width="1"/>
<path d="M394.1,175.3 V185.1 M399.9,175.3 V185.1" stroke="#141414" stroke-width="0.9"/>
<rect x="374.7" y="175.1" width="3.4" height="10.4" fill="#fff" stroke="#141414" stroke-width="1.1"/>
<rect x="512.5" y="175" width="15.80" height="10.80" fill="#fff"/>
<path d="M512.5,175.5 H528.3 M512.5,185.3 H528.3" stroke="#141414" stroke-width="1"/>
<path d="M513.2,175 V185.8 M527.5999999999999,175 V185.8" stroke="#141414" stroke-width="1.4" stroke-dasharray="1.2 1"/>
<line x1="516.8" y1="175" x2="516.8" y2="185.8" stroke="#141414" stroke-width="1.3"/>
<line x1="519.9" y1="175" x2="519.9" y2="185.8" stroke="#141414" stroke-width="1.3"/>
<line x1="524.2" y1="175" x2="524.2" y2="185.8" stroke="#141414" stroke-width="1.3"/>
<circle cx="514.9" cy="178.2" r="0.55" fill="#777"/>
<circle cx="514.9" cy="180.4" r="0.55" fill="#777"/>
<circle cx="514.9" cy="182.6" r="0.55" fill="#777"/>
<circle cx="522.0" cy="178.2" r="0.55" fill="#777"/>
<circle cx="522.0" cy="180.4" r="0.55" fill="#777"/>
<circle cx="522.0" cy="182.6" r="0.55" fill="#777"/>
<circle cx="526.1" cy="178.2" r="0.55" fill="#777"/>
<circle cx="526.1" cy="180.4" r="0.55" fill="#777"/>
<circle cx="526.1" cy="182.6" r="0.55" fill="#777"/>
<path d="M517.3,185.8 Q517.3,190.1 523.3,190.1" fill="none" stroke="#141414" stroke-width="2.9"/>
<line x1="523.3" y1="190.1" x2="538.5" y2="190.1" stroke="#141414" stroke-width="1.5"/>
<circle cx="538.5" cy="190.1" r="1.4" fill="#fff" stroke="#141414" stroke-width="0.9"/>
<rect x="510.8" y="197.5" width="16.70" height="11.70" fill="#fff"/>
<path d="M510.8,198.0 H527.5 M510.8,208.7 H527.5" stroke="#141414" stroke-width="1"/>
<path d="M511.5,197.5 V209.2 M526.8,197.5 V209.2" stroke="#141414" stroke-width="1.4" stroke-dasharray="1.2 1"/>
<line x1="515.3" y1="197.5" x2="515.3" y2="209.2" stroke="#141414" stroke-width="1.3"/>
<line x1="518.6" y1="197.5" x2="518.6" y2="209.2" stroke="#141414" stroke-width="1.3"/>
<line x1="523.2" y1="197.5" x2="523.2" y2="209.2" stroke="#141414" stroke-width="1.3"/>
<circle cx="513.3" cy="201.0" r="0.55" fill="#777"/>
<circle cx="513.3" cy="203.3" r="0.55" fill="#777"/>
<circle cx="513.3" cy="205.7" r="0.55" fill="#777"/>
<circle cx="520.8" cy="201.0" r="0.55" fill="#777"/>
<circle cx="520.8" cy="203.3" r="0.55" fill="#777"/>
<circle cx="520.8" cy="205.7" r="0.55" fill="#777"/>
<circle cx="525.2" cy="201.0" r="0.55" fill="#777"/>
<circle cx="525.2" cy="203.3" r="0.55" fill="#777"/>
<circle cx="525.2" cy="205.7" r="0.55" fill="#777"/>
<path d="M517.3,209.2 Q517.3,213.5 523.3,213.5" fill="none" stroke="#141414" stroke-width="2.9"/>
<line x1="523.3" y1="213.5" x2="538.5" y2="213.5" stroke="#141414" stroke-width="1.5"/>
<circle cx="538.5" cy="213.5" r="1.4" fill="#fff" stroke="#141414" stroke-width="0.9"/>
<circle cx="503.5" cy="203.5" r="3.5" fill="#fff" stroke="#666" stroke-width="0.9"/>
<path d="M500.0,203.5 H507.0 M503.5,200.0 V207.0" stroke="#777" stroke-width="0.7"/>
<rect x="448.4" y="198.1" width="5.60" height="9.80" fill="#fff" stroke="#141414" stroke-width="1"/>
<path d="M452,198.1 V207.9" stroke="#141414" stroke-width="0.8"/>
<rect x="454" y="196.6" width="7.90" height="12.80" fill="#fff" stroke="#141414" stroke-width="1.3"/>
<path d="M454,203 H461.9" stroke="#777" stroke-width="0.7"/>
<rect x="464" y="194.2" width="14.20" height="14.30" fill="#fff"/>
<path d="M464,194.7 H478.2 M464,208.0 H478.2" stroke="#141414" stroke-width="1"/>
<path d="M464.7,194.2 V208.5 M477.5,194.2 V208.5" stroke="#141414" stroke-width="1.4" stroke-dasharray="1.2 1"/>
<line x1="467.8" y1="194.2" x2="467.8" y2="208.5" stroke="#141414" stroke-width="1.3"/>
<line x1="470.7" y1="194.2" x2="470.7" y2="208.5" stroke="#141414" stroke-width="1.3"/>
<line x1="474.5" y1="194.2" x2="474.5" y2="208.5" stroke="#141414" stroke-width="1.3"/>
<circle cx="466.1" cy="198.5" r="0.55" fill="#777"/>
<circle cx="466.1" cy="201.3" r="0.55" fill="#777"/>
<circle cx="466.1" cy="204.2" r="0.55" fill="#777"/>
<circle cx="472.5" cy="198.5" r="0.55" fill="#777"/>
<circle cx="472.5" cy="201.3" r="0.55" fill="#777"/>
<circle cx="472.5" cy="204.2" r="0.55" fill="#777"/>
<circle cx="476.2" cy="198.5" r="0.55" fill="#777"/>
<circle cx="476.2" cy="201.3" r="0.55" fill="#777"/>
<circle cx="476.2" cy="204.2" r="0.55" fill="#777"/>
<path d="M466.8,194.2 Q466.8,189.9 472.8,189.9" fill="none" stroke="#141414" stroke-width="2.9"/>
<line x1="472.8" y1="189.9" x2="486.0" y2="189.9" stroke="#141414" stroke-width="1.5"/>
<circle cx="486.0" cy="189.9" r="1.4" fill="#fff" stroke="#141414" stroke-width="0.9"/>
<rect x="155" y="110.8" width="5.3" height="11" fill="#fff" stroke="#141414" stroke-width="1.2"/>
<path d="M157.5,110.8 V121.8" stroke="#141414" stroke-width="1"/>
<rect x="160.3" y="103.1" width="3.50" height="26.80" fill="#fff" stroke="#6a6a6a" stroke-width="1"/>
<line x1="162.05" y1="103.6" x2="162.05" y2="129.4" stroke="#2cbb8f" stroke-width="1"/>
<rect x="212.2" y="103.1" width="3.50" height="26.80" fill="#fff" stroke="#6a6a6a" stroke-width="1"/>
<line x1="213.95" y1="103.6" x2="213.95" y2="129.4" stroke="#2cbb8f" stroke-width="1"/>
<path d="M166.1,106 C166.1,99 175,97.3 188,97.3 C201,97.3 209.8,99 209.8,106 V126.5 C209.8,133.5 201,135.2 188,135.2 C175,135.2 166.1,133.5 166.1,126.5 Z" fill="#f4fbf8" stroke="#2cbb8f" stroke-width="1.1"/>
<line x1="163.8" y1="112.4" x2="212.2" y2="112.4" stroke="#2cbb8f" stroke-width="0.8"/>
<line x1="163.8" y1="114.75" x2="212.2" y2="114.75" stroke="#2cbb8f" stroke-width="0.8"/>
<line x1="163.8" y1="117.1" x2="212.2" y2="117.1" stroke="#2cbb8f" stroke-width="0.8"/>
<line x1="163.8" y1="120" x2="212.2" y2="120" stroke="#2cbb8f" stroke-width="0.8"/>
<rect x="197" y="108.3" width="7" height="13.4" rx="1.5" fill="#fff" stroke="#2cbb8f" stroke-width="1"/>
<rect x="177.8" y="106.0" width="19.8" height="20.4" rx="3.5" fill="#fff" stroke="#2cbb8f" stroke-width="1.8"/>
<circle cx="179.8" cy="108.0" r="1.3" fill="#2cbb8f"/>
<circle cx="195.6" cy="108.0" r="1.3" fill="#2cbb8f"/>
<circle cx="179.8" cy="124.4" r="1.3" fill="#2cbb8f"/>
<circle cx="195.6" cy="124.4" r="1.3" fill="#2cbb8f"/>
<circle cx="187.7" cy="116.2" r="8.5" fill="#fff" stroke="#2cbb8f" stroke-width="1"/>
<rect x="185.2" y="111.0" width="4.9" height="10.5" fill="#14a578"/>
<line x1="163.8" y1="116.2" x2="212.2" y2="116.2" stroke="#2cbb8f" stroke-width="0.6"/>
<rect x="399.5" y="198" width="3.00" height="10.50" fill="#fff" stroke="#141414" stroke-width="0.9"/>
<rect x="402.5" y="191.2" width="3.70" height="24.80" fill="#fff" stroke="#6a6a6a" stroke-width="1"/>
<line x1="404.35" y1="191.7" x2="404.35" y2="215.5" stroke="#2cbb8f" stroke-width="1"/>
<rect x="444.5" y="191.2" width="3.70" height="24.80" fill="#fff" stroke="#6a6a6a" stroke-width="1"/>
<line x1="446.35" y1="191.7" x2="446.35" y2="215.5" stroke="#2cbb8f" stroke-width="1"/>
<path d="M408.5,194 C408.5,188.5 415,186.7 425.7,186.7 C436.5,186.7 443,188.5 443,194 V213 C443,218.7 436.5,220.5 425.7,220.5 C415,220.5 408.5,218.7 408.5,213 Z" fill="#f4fbf8" stroke="#2cbb8f" stroke-width="1.1"/>
<line x1="406.2" y1="203.3" x2="444.5" y2="203.3" stroke="#2cbb8f" stroke-width="0.8"/>
<rect x="434.7" y="195.7" width="5.3" height="12.8" rx="1.5" fill="#fff" stroke="#2cbb8f" stroke-width="1"/>
<rect x="414.5" y="193.6" width="21" height="18.7" rx="3.5" fill="#fff" stroke="#2cbb8f" stroke-width="1.8"/>
<circle cx="416.5" cy="195.6" r="1.3" fill="#2cbb8f"/>
<circle cx="433.5" cy="195.6" r="1.3" fill="#2cbb8f"/>
<circle cx="416.5" cy="210.2" r="1.3" fill="#2cbb8f"/>
<circle cx="433.5" cy="210.2" r="1.3" fill="#2cbb8f"/>
<circle cx="425" cy="202.9" r="6.8" fill="#fff" stroke="#2cbb8f" stroke-width="1"/>
<rect x="422.8" y="198.4" width="4.5" height="9" fill="#14a578"/>
<circle cx="413.7" cy="210.7" r="2" fill="#fff" stroke="#2cbb8f" stroke-width="1"/>
<rect x="187.4" y="230.9" width="26.90" height="4.40" fill="#fff" stroke="#6a6a6a" stroke-width="1"/>
<line x1="187.9" y1="233.10" x2="213.8" y2="233.10" stroke="#2cbb8f" stroke-width="1"/>
<rect x="187.4" y="280.2" width="26.90" height="4.40" fill="#fff" stroke="#6a6a6a" stroke-width="1"/>
<line x1="187.9" y1="282.40" x2="213.8" y2="282.40" stroke="#2cbb8f" stroke-width="1"/>
<path d="M189,235.3 H212.3 C218.5,235.3 220.1,246 220.1,257.7 C220.1,269.5 218.5,280.2 212.3,280.2 H189 C182.8,280.2 181.2,269.5 181.2,257.7 C181.2,246 182.8,235.3 189,235.3 Z" fill="#f4fbf8" stroke="#2cbb8f" stroke-width="1.1"/>
<line x1="196.1" y1="235.3" x2="196.1" y2="249" stroke="#2cbb8f" stroke-width="0.8"/>
<line x1="199.8" y1="235.3" x2="199.8" y2="249" stroke="#2cbb8f" stroke-width="0.8"/>
<line x1="202" y1="235.3" x2="202" y2="249" stroke="#2cbb8f" stroke-width="0.8"/>
<line x1="205.6" y1="235.3" x2="205.6" y2="249" stroke="#2cbb8f" stroke-width="0.8"/>
<rect x="194" y="267.9" width="11.6" height="7.3" rx="1.5" fill="#fff" stroke="#2cbb8f" stroke-width="1"/>
<rect x="190.3" y="248.2" width="21" height="19.6" rx="3.5" fill="#fff" stroke="#2cbb8f" stroke-width="1.8"/>
<circle cx="192.3" cy="250.2" r="1.3" fill="#2cbb8f"/>
<circle cx="209.3" cy="250.2" r="1.3" fill="#2cbb8f"/>
<circle cx="192.3" cy="265.8" r="1.3" fill="#2cbb8f"/>
<circle cx="209.3" cy="265.8" r="1.3" fill="#2cbb8f"/>
<circle cx="200.8" cy="258" r="8" fill="#fff" stroke="#2cbb8f" stroke-width="1"/>
<rect x="195.4" y="255.6" width="10.8" height="4.8" fill="#14a578"/>
<line x1="200.5" y1="235" x2="200.5" y2="280" stroke="#2cbb8f" stroke-width="0.6"/>
<rect x="464.7" y="110.8" width="4.5" height="12" fill="#fff" stroke="#2cbb8f" stroke-width="1.5"/>
<path d="M490,110.8 L495,113 V121 L490,123 Z" fill="#2cbb8f" stroke="#2cbb8f" stroke-width="1"/>
<path d="M469,112.4 H490 M469,120.1 H490" stroke="#2cbb8f" stroke-width="1.2"/>
<path d="M470,116.2 H489" stroke="#2cbb8f" stroke-width="0.7"/>
<circle cx="479" cy="116.4" r="5.2" fill="#fff" stroke="#2cbb8f" stroke-width="1.6"/>
<rect x="477.6" y="113.8" width="3.4" height="5.2" fill="#14a578"/>
<rect x="460" y="112.3" width="3.50" height="8.20" fill="#fff" stroke="#141414" stroke-width="0.9"/>
<line x1="314" y1="87.3" x2="297.5" y2="115.8" stroke="#141414" stroke-width="0.8"/>
<line x1="405" y1="87.3" x2="390" y2="112" stroke="#141414" stroke-width="0.8"/>
<line x1="453.5" y1="87.6" x2="412.6" y2="155" stroke="#141414" stroke-width="0.8"/>
<line x1="511.3" y1="87.9" x2="472.3" y2="155.7" stroke="#141414" stroke-width="0.8"/>
<line x1="497.5" y1="87.5" x2="479.3" y2="117" stroke="#141414" stroke-width="0.8"/>
<line x1="156.3" y1="87" x2="129.5" y2="141" stroke="#141414" stroke-width="0.8"/>
<line x1="178.3" y1="87" x2="141" y2="153" stroke="#141414" stroke-width="0.8"/>
<line x1="207" y1="87" x2="196" y2="105" stroke="#141414" stroke-width="0.8"/>
<line x1="103" y1="177.5" x2="110" y2="165.5" stroke="#141414" stroke-width="0.8"/>
<line x1="288.7" y1="223.8" x2="299" y2="204" stroke="#141414" stroke-width="0.8"/>
<line x1="365.4" y1="222" x2="391.2" y2="179.8" stroke="#141414" stroke-width="0.8"/>
<line x1="427" y1="224.2" x2="436" y2="209.5" stroke="#141414" stroke-width="0.8"/>
<circle cx="317.8" cy="80.3" r="7.0" fill="#fff" stroke="#141414" stroke-width="0.9"/>
<text x="317.5" y="83.8" font-size="10" font-style="italic" text-anchor="middle" fill="#141414">18</text>
<circle cx="408.3" cy="80.3" r="7.0" fill="#fff" stroke="#141414" stroke-width="0.9"/>
<text x="408.0" y="83.8" font-size="10" font-style="italic" text-anchor="middle" fill="#141414">8</text>
<circle cx="457.3" cy="80.3" r="7.0" fill="#fff" stroke="#141414" stroke-width="0.9"/>
<text x="457.0" y="83.8" font-size="10" font-style="italic" text-anchor="middle" fill="#141414">9</text>
<circle cx="515.4" cy="80.4" r="7.3" fill="#fff" stroke="#141414" stroke-width="0.9"/>
<text x="515.1" y="83.9" font-size="10" font-style="italic" text-anchor="middle" fill="#141414">7</text>
<circle cx="162.7" cy="80.2" r="7.0" fill="#fff" stroke="#141414" stroke-width="0.9"/>
<text x="162.39999999999998" y="83.7" font-size="10" font-style="italic" text-anchor="middle" fill="#141414">11</text>
<circle cx="182.2" cy="80.2" r="7.0" fill="#fff" stroke="#141414" stroke-width="0.9"/>
<text x="181.89999999999998" y="83.7" font-size="10" font-style="italic" text-anchor="middle" fill="#141414">13</text>
<circle cx="71.3" cy="80.8" r="6.6" fill="#fff" stroke="#141414" stroke-width="0.9"/>
<text x="71.0" y="84.3" font-size="10" font-style="italic" text-anchor="middle" fill="#141414">5</text>
<circle cx="99" cy="186" r="7.0" fill="#fff" stroke="#141414" stroke-width="0.9"/>
<text x="98.7" y="189.5" font-size="10" font-style="italic" text-anchor="middle" fill="#141414">14</text>
<circle cx="135.6" cy="186" r="7.0" fill="#fff" stroke="#141414" stroke-width="0.9"/>
<text x="135.29999999999998" y="189.5" font-size="10" font-style="italic" text-anchor="middle" fill="#141414">12</text>
<circle cx="175.7" cy="177" r="7.0" fill="#fff" stroke="#141414" stroke-width="0.9"/>
<text x="175.39999999999998" y="180.5" font-size="10" font-style="italic" text-anchor="middle" fill="#141414">15</text>
<circle cx="216" cy="162.4" r="7.0" fill="#fff" stroke="#141414" stroke-width="0.9"/>
<text x="215.7" y="165.9" font-size="10" font-style="italic" text-anchor="middle" fill="#141414">16</text>
<circle cx="285" cy="230.3" r="7.0" fill="#fff" stroke="#141414" stroke-width="0.9"/>
<text x="284.7" y="233.8" font-size="10" font-style="italic" text-anchor="middle" fill="#141414">17</text>
<circle cx="360.8" cy="229" r="7.0" fill="#fff" stroke="#141414" stroke-width="0.9"/>
<text x="360.5" y="232.5" font-size="10" font-style="italic" text-anchor="middle" fill="#141414">10</text>
<text x="197.8" y="85.5" font-size="14.5" font-weight="bold" font-style="italic" textLength="15.6" lengthAdjust="spacingAndGlyphs" fill="#141414">H2</text>
<text x="488.2" y="85.8" font-size="14.5" font-weight="bold" font-style="italic" textLength="15.8" lengthAdjust="spacingAndGlyphs" fill="#141414">H4</text>
<text x="416.4" y="236.1" font-size="14.5" font-weight="bold" font-style="italic" textLength="15.9" lengthAdjust="spacingAndGlyphs" fill="#141414">H3</text>
<text x="162.2" y="264" font-size="14.5" font-weight="bold" font-style="italic" textLength="15.2" lengthAdjust="spacingAndGlyphs" fill="#141414">H1</text>
<text x="100.3" y="105.2" font-size="10.2" text-anchor="middle" font-weight="normal" font-style="normal" letter-spacing="0" fill="#141414">2"</text>
<text x="96.7" y="160" font-size="10.2" text-anchor="middle" font-weight="normal" font-style="normal" letter-spacing="0" fill="#141414">2"</text>
<text x="136.3" y="102.5" font-size="10.2" text-anchor="middle" font-weight="normal" font-style="normal" letter-spacing="0" fill="#141414">2 1/2"</text>
<text x="235.3" y="104.3" font-size="10.2" text-anchor="middle" font-weight="normal" font-style="normal" letter-spacing="0" fill="#141414">2 1/2"</text>
<text x="359.6" y="103.8" font-size="10.2" text-anchor="middle" font-weight="normal" font-style="normal" letter-spacing="0" fill="#141414">2"</text>
<text x="359.6" y="155.2" font-size="10.2" text-anchor="middle" font-weight="normal" font-style="normal" letter-spacing="0" fill="#141414">2"</text>
<text x="359.6" y="167" font-size="10.2" text-anchor="middle" font-weight="normal" font-style="normal" letter-spacing="0" fill="#141414">2"</text>
<text x="359.6" y="219.6" font-size="10.2" text-anchor="middle" font-weight="normal" font-style="normal" letter-spacing="0" fill="#141414">2"</text>
<text x="432.5" y="103" font-size="10.2" text-anchor="middle" font-weight="normal" font-style="normal" letter-spacing="0" fill="#141414">2"</text>
<text x="521.3" y="108.8" font-size="10.2" text-anchor="middle" font-weight="normal" font-style="normal" letter-spacing="0" fill="#141414">2"</text>
<text x="521" y="160.2" font-size="10.2" text-anchor="middle" font-weight="normal" font-style="normal" letter-spacing="0" fill="#141414">2"</text>
<text x="521" y="172.2" font-size="10.2" text-anchor="middle" font-weight="normal" font-style="normal" letter-spacing="0" fill="#141414">2"</text>
<text x="521.2" y="223.3" font-size="10.2" text-anchor="middle" font-weight="normal" font-style="normal" letter-spacing="0" fill="#141414">2"</text>
<text x="240.4" y="161" font-size="10.2" text-anchor="middle" font-weight="normal" font-style="normal" letter-spacing="0" fill="#141414">2"</text>
<text x="240.4" y="171.2" font-size="10.2" text-anchor="middle" font-weight="normal" font-style="normal" letter-spacing="0" fill="#141414">2"</text>
<text x="240.4" y="223.7" font-size="10.2" text-anchor="middle" font-weight="normal" font-style="normal" letter-spacing="0" fill="#141414">2"</text>
<text x="179.7" y="223.2" font-size="10.2" text-anchor="middle" font-weight="normal" font-style="normal" letter-spacing="0" fill="#141414">2 1/2"</text>
<text x="180.3" y="296.4" font-size="10.2" text-anchor="middle" font-weight="normal" font-style="normal" letter-spacing="0" fill="#141414">2 1/2"</text>
<text x="473" y="219" font-size="10.2" text-anchor="middle" font-weight="normal" font-style="normal" letter-spacing="0" fill="#141414">2"</text>
<text x="134.5" y="224.3" font-size="10.2" text-anchor="middle" font-weight="normal" font-style="normal" letter-spacing="0" fill="#141414">2"</text>
<line x1="65.8" y1="106.3" x2="98.5" y2="106.3" stroke="#ff0000" stroke-width="1.1"/>
<path d="M82.5,103.3 L98.5,106.3 L82.5,109.3 L86.5,106.3 Z" fill="none" stroke="#ff0000" stroke-width="1"/>
<line x1="223.5" y1="148.3" x2="190" y2="148.3" stroke="#0000ff" stroke-width="1.1"/>
<path d="M206,145.3 L190,148.3 L206,151.3 L202,148.3 Z" fill="none" stroke="#0000ff" stroke-width="1"/>
<line x1="350" y1="168.6" x2="317.8" y2="168.6" stroke="#ff0000" stroke-width="1.1"/>
<path d="M333.8,165.6 L317.8,168.6 L333.8,171.6 L329.8,168.6 Z" fill="none" stroke="#ff0000" stroke-width="1"/>
<line x1="364.3" y1="211.4" x2="398.2" y2="211.4" stroke="#0000ff" stroke-width="1.1"/>
<path d="M382.2,208.4 L398.2,211.4 L382.2,214.4 L386.2,211.4 Z" fill="none" stroke="#0000ff" stroke-width="1"/>
<line x1="582.1" y1="116.7" x2="548.2" y2="116.7" stroke="#ff0000" stroke-width="1.1"/>
<path d="M564.2,113.7 L548.2,116.7 L564.2,119.7 L560.2,116.7 Z" fill="none" stroke="#ff0000" stroke-width="1"/>
<line x1="548.2" y1="139.8" x2="582.1" y2="139.8" stroke="#0000ff" stroke-width="1.1"/>
<path d="M566.1,136.8 L582.1,139.8 L566.1,142.8 L570.1,139.8 Z" fill="none" stroke="#0000ff" stroke-width="1"/>
<line x1="583.3" y1="180.3" x2="550" y2="180.3" stroke="#ff0000" stroke-width="1.1"/>
<path d="M566,177.3 L550,180.3 L566,183.3 L562,180.3 Z" fill="none" stroke="#ff0000" stroke-width="1"/>
<line x1="548.3" y1="203.7" x2="581.7" y2="203.7" stroke="#0000ff" stroke-width="1.1"/>
<path d="M565.7,200.7 L581.7,203.7 L565.7,206.7 L569.7,203.7 Z" fill="none" stroke="#0000ff" stroke-width="1"/>
<line x1="22" y1="322.4" x2="22" y2="288.7" stroke="#ff0000" stroke-width="1.1"/>
<path d="M19,304.7 L22,288.7 L25,304.7 L22,300.7 Z" fill="none" stroke="#ff0000" stroke-width="1"/>
<line x1="63.3" y1="289.8" x2="63.3" y2="323.5" stroke="#0000ff" stroke-width="1.1"/>
<path d="M60.3,307.5 L63.3,323.5 L66.3,307.5 L63.3,311.5 Z" fill="none" stroke="#0000ff" stroke-width="1"/>
<line x1="125" y1="346.3" x2="125" y2="312.6" stroke="#0000ff" stroke-width="1.1"/>
<path d="M122,328.6 L125,312.6 L128,328.6 L125,324.6 Z" fill="none" stroke="#0000ff" stroke-width="1"/>
<line x1="211.6" y1="313.7" x2="211.6" y2="346.5" stroke="#ff0000" stroke-width="1.1"/>
<path d="M208.6,330.5 L211.6,346.5 L214.6,330.5 L211.6,334.5 Z" fill="none" stroke="#ff0000" stroke-width="1"/>
<rect x="57.9" y="91" width="3.10" height="21.30" fill="#ff0000" />
<path d="M55.8,91.6 L59.4,87.4 L62.6,91.6 Z" fill="#fff" stroke="#141414" stroke-width="1"/>
<path d="M54.2,84.7 L58.4,87.4 L54.2,90 Z" fill="#fff" stroke="#141414" stroke-width="1"/>
<path d="M54.2,86.8 H45.8 V90.5" fill="none" stroke="#444" stroke-width="0.9"/>
<path d="M42.1,91 L45.8,98 L50,91 M45.8,98 V105.8" fill="none" stroke="#444" stroke-width="0.9"/>
<rect x="57.9" y="79" width="2.6" height="6" rx="1" fill="#141414"/>
<rect x="598.6" y="0" width="1.4" height="427" fill="#333"/>
<rect x="0" y="423.8" width="600" height="3.2" fill="#43474a"/><rect x="0" y="423.8" width="600" height="1" fill="#26292b"/>
</svg>
</body></html>
